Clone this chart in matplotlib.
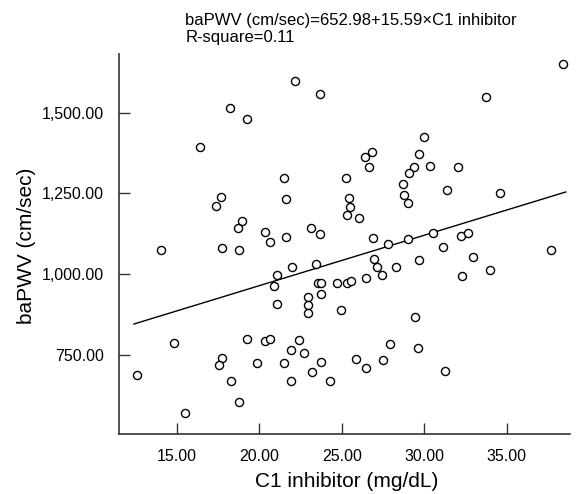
import matplotlib
matplotlib.use('agg')
import matplotlib.pyplot as plt
from matplotlib.ticker import FuncFormatter
import numpy as np

# C1 inhibitor (mg/dL) vs baPWV (cm/sec)
c1 = [22.16, 23.70, 18.23, 19.23, 16.42, 21.47, 25.27, 17.65, 17.37, 21.61,
      25.44, 25.52, 25.32, 26.03, 18.93, 18.68, 20.32, 20.64, 21.61, 23.13,
      23.70, 14.03, 17.75, 18.78, 21.98, 21.07, 20.90, 21.07, 23.45, 23.54,
      23.72, 23.76, 22.95, 22.95, 22.95, 24.73, 24.97, 25.33, 25.53, 14.84,
      12.59, 15.50, 17.75, 17.55, 18.30, 18.76, 19.23, 19.87, 20.34, 20.66,
      21.47, 21.94, 21.94, 22.40, 22.72, 23.21, 23.76, 24.28, 26.87, 27.79,
      29.04, 30.55, 32.23, 32.64, 31.12, 32.94, 33.99, 37.69, 26.97, 27.15,
      27.46, 28.29, 29.66, 26.49, 32.31, 29.46, 27.92, 29.62, 25.86, 27.52,
      26.45, 31.27, 38.44, 33.75, 29.99, 26.39, 26.83, 26.63, 29.67, 29.38,
      30.33, 29.10, 32.05, 28.74, 28.77, 29.04, 31.38, 34.62]
bapwv = [1599, 1557, 1515, 1481, 1394, 1299, 1298, 1238, 1212, 1232,
         1237, 1208, 1183, 1174, 1164, 1144, 1130, 1099, 1115, 1144,
         1124, 1075, 1080, 1074, 1022, 998, 964, 909, 1031, 972,
         972, 939, 930, 906, 881, 972, 889, 972, 980, 786,
         687, 572, 742, 718, 670, 605, 799, 724, 793, 800,
         724, 765, 670, 796, 756, 697, 728, 670, 1112, 1094,
         1109, 1127, 1117, 1128, 1083, 1052, 1014, 1075, 1046, 1022,
         998, 1022, 1045, 988, 995, 867, 783, 771, 739, 736,
         709, 700, 1649, 1547, 1425, 1362, 1379, 1332, 1371, 1332,
         1336, 1314, 1332, 1279, 1244, 1219, 1260, 1251]

intercept = 652.98
slope = 15.59
r_square = 0.11

x_ticks = [15, 20, 25, 30, 35]
y_ticks = [750, 1000, 1250, 1500]

plt.rcParams['font.family'] = ['Liberation Sans', 'DejaVu Sans']

fig = plt.figure(figsize=(5.77, 4.94), dpi=100)
ax = fig.add_axes([0.207, 0.1215, 0.781, 0.769])

ax.scatter(c1, bapwv, s=34, facecolors='white', edgecolors='black', linewidths=1.0, zorder=3)

xs = np.array([min(c1) - 0.2, max(c1) + 0.15])
ax.plot(xs, intercept + slope * xs, color='black', lw=1.0, zorder=2)

ax.set_xlim(11.51, 38.85)
ax.set_ylim(506, 1681)
ax.set_xticks(x_ticks)
ax.set_yticks(y_ticks)
ax.xaxis.set_major_formatter(FuncFormatter(lambda v, p: f'{v:.2f}'))
ax.yaxis.set_major_formatter(FuncFormatter(lambda v, p: f'{v:,.2f}'))

for side in ['top', 'right']:
    ax.spines[side].set_visible(False)
for side in ['left', 'bottom']:
    ax.spines[side].set_linewidth(1.2)
    ax.spines[side].set_color('#333333')
ax.tick_params(direction='in', length=8, width=1.0, color='#333333', labelsize=11.5, pad=11)

fig.text(347 / 577, 1 - 481 / 494, 'C1 inhibitor (mg/dL)', fontsize=15, ha='center', va='center')
fig.text(26.5 / 577, 1 - 246 / 494, 'baPWV (cm/sec)', fontsize=15, rotation=90,
         ha='center', va='center')

fig.text(0.321, 0.958, 'baPWV (cm/sec)=%.2f+%.2f\u00d7C1 inhibitor' % (intercept, slope),
         fontsize=12, ha='left', va='center')
fig.text(0.321, 0.925, 'R-square=%.2f' % r_square, fontsize=12, ha='left', va='center')

fig.savefig('out.png', dpi=100)
